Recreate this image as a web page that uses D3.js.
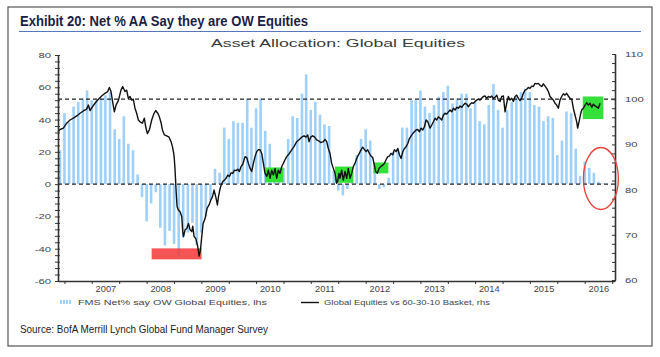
<!DOCTYPE html>
<html><head><meta charset="utf-8">
<script src="https://cdn.jsdelivr.net/npm/d3@7"></script>
<style>body{margin:0;background:#fff}svg{display:block}</style>
</head><body>
<svg id="c" width="660" height="357"></svg>
<script>
// ---------------- DATA ----------------
const titleText = "Exhibit 20: Net % AA Say they are OW Equities";
const chartTitle = "Asset Allocation: Global Equities";
const sourceText = "Source: BofA Merrill Lynch Global Fund Manager Survey";
const barLabel = "FMS Net% say OW Global Equities, lhs";
const lineLabel = "Global Equities vs 60-30-10 Basket, rhs";

const barFirstMonth = [2006, 9]; // Sep 2006, monthly
const barValues = [
  21, 44, 38, 48, 51, 53, 58, 52, 52, 53, 55, 57,
  34, 28, 42, 25, 21, 6,
  -8, -23, -12, -5, -27, -38, -29, -37, -45, -33, -30, -24, -38, -30, -20, -10,
  9.5, 7, 35, 28, 39, 38,
  38, 53, 35, 47, 53, 33, 25, 10, 8, 10,
  28, 42, 41, 56, 68, 46, 51, 43, 37, 36,
  8, -4, -7, -3, 8, 18, 28, 34, 27, 10,
  -3, -2, 4, 20, 22, 35, 35, 52, 52, 58,
  48, 44, 49, 54, 57, 61, 50, 53, 56, 56,
  47, 51, 39, 37, 49, 62, 46, 35, 46, 51,
  54, 57, 59, 57, 49, 48, 39, 42, 41, 18,
  27, 45, 44, 22, 5, 14, 10, 7, 1.5, 0.5
];

const lineYears = [
  2006.63,2006.667,2006.728,2006.789,2006.85,2006.911,2006.972,2007.033,2007.093,2007.154,
  2007.185,2007.215,2007.258,2007.306,2007.367,2007.428,2007.489,2007.538,2007.568,2007.599,
  2007.623,2007.66,2007.69,2007.733,2007.781,2007.812,2007.854,2007.885,2007.915,2007.946,
  2007.976,2008.006,2008.037,2008.067,2008.098,2008.128,2008.171,2008.207,2008.232,2008.262,
  2008.299,2008.341,2008.378,2008.414,2008.451,2008.481,2008.512,2008.536,2008.573,2008.615,
  2008.658,2008.694,2008.719,2008.743,2008.755,2008.767,2008.779,2008.792,2008.804,2008.828,
  2008.859,2008.889,2008.907,2008.92,2008.95,2008.98,2009.011,2009.041,2009.072,2009.09,
  2009.114,2009.145,2009.181,2009.206,2009.23,2009.254,2009.279,2009.315,2009.352,2009.388,
  2009.419,2009.449,2009.479,2009.51,2009.54,2009.559,2009.583,2009.607,2009.638,2009.668,
  2009.699,2009.729,2009.759,2009.79,2009.82,2009.851,2009.881,2009.912,2009.942,2009.972,
  2010.003,2010.045,2010.076,2010.106,2010.137,2010.167,2010.197,2010.228,2010.258,2010.289,
  2010.319,2010.35,2010.38,2010.41,2010.441,2010.471,2010.502,2010.532,2010.563,2010.593,
  2010.624,2010.654,2010.684,2010.715,2010.745,2010.776,2010.806,2010.855,2010.897,2010.94,
  2010.989,2011.037,2011.08,2011.123,2011.159,2011.19,2011.214,2011.244,2011.281,2011.318,
  2011.354,2011.39,2011.427,2011.476,2011.506,2011.537,2011.567,2011.597,2011.628,2011.658,
  2011.689,2011.719,2011.737,2011.762,2011.78,2011.81,2011.841,2011.871,2011.902,2011.932,
  2011.963,2011.993,2012.024,2012.054,2012.084,2012.127,2012.164,2012.194,2012.224,2012.255,
  2012.285,2012.316,2012.346,2012.377,2012.407,2012.431,2012.462,2012.492,2012.523,2012.559,
  2012.59,2012.62,2012.651,2012.681,2012.711,2012.742,2012.772,2012.803,2012.833,2012.864,
  2012.894,2012.925,2012.955,2012.985,2013.016,2013.046,2013.077,2013.107,2013.137,2013.168,
  2013.198,2013.229,2013.259,2013.29,2013.32,2013.351,2013.381,2013.423,2013.454,2013.484,
  2013.515,2013.545,2013.575,2013.606,2013.636,2013.667,2013.697,2013.728,2013.758,2013.789,
  2013.819,2013.849,2013.88,2013.91,2013.941,2013.971,2014.002,2014.032,2014.062,2014.093,
  2014.123,2014.154,2014.184,2014.215,2014.245,2014.275,2014.306,2014.336,2014.367,2014.397,
  2014.428,2014.458,2014.489,2014.519,2014.549,2014.58,2014.61,2014.641,2014.671,2014.702,
  2014.732,2014.763,2014.793,2014.823,2014.854,2014.884,2014.915,2014.945,2014.976,2015.006,
  2015.036,2015.067,2015.097,2015.128,2015.158,2015.189,2015.219,2015.25,2015.28,2015.31,
  2015.341,2015.371,2015.402,2015.432,2015.463,2015.493,2015.523,2015.554,2015.584,2015.615,
  2015.645,2015.676,2015.706,2015.736,2015.767,2015.797,2015.828,2015.858,2015.889,2015.919,
  2015.95,2015.98,2016.011,2016.041,2016.071,2016.102,2016.12,2016.144,2016.169,2016.193,
  2016.223,2016.254,2016.284,2016.315,2016.345,2016.376,2016.406,2016.436,2016.467,2016.497,
  2016.528
];
const lineValues = [
  92.8,93.3,93.6,94.7,95.4,95.8,96.3,96.9,97.4,97.8,
  98.7,97.5,98.3,99.1,100.0,100.7,101.3,101.7,102.6,101.7,
  99.8,97.2,98.7,99.7,102.0,102.8,101.7,102.0,100.2,100.6,
  99.8,100.0,98.0,96.9,95.4,95.0,94.7,95.8,93.9,92.4,
  93.2,95.4,96.7,97.5,96.9,96.1,94.8,93.2,92.1,91.9,
  91.6,90.6,89.5,88.0,86.5,84.3,81.4,78.4,76.2,75.5,
  75.1,74.0,70.7,69.6,71.1,71.4,72.5,71.1,70.7,71.9,
  69.6,69.2,67.4,65.3,66.6,69.6,72.5,73.6,75.9,76.6,
  77.7,78.4,79.9,78.4,76.6,78.4,79.9,81.0,81.8,82.1,
  82.5,83.2,82.9,83.7,83.6,84.3,84.2,84.5,84.0,85.1,
  85.6,87.3,87.1,85.8,84.7,84.0,85.8,87.3,88.4,88.8,
  88.8,88.0,85.8,83.6,82.9,84.3,82.5,84.3,83.2,84.7,
  82.5,84.3,83.6,85.1,85.8,86.6,87.3,88.0,88.8,89.5,
  90.6,91.1,91.6,91.9,91.6,92.1,90.6,91.6,91.9,91.6,
  91.0,90.8,90.4,90.6,91.1,90.6,89.1,88.0,85.8,84.7,
  83.6,81.4,81.8,83.6,82.5,84.3,82.1,84.0,82.5,84.7,
  82.5,83.6,85.1,85.8,86.9,87.9,88.8,89.4,88.9,88.4,
  88.8,88.0,87.4,87.1,85.4,84.0,83.6,84.7,85.1,85.4,
  85.8,86.6,87.3,87.4,88.0,87.7,88.8,88.4,89.1,87.7,
  86.9,88.4,89.1,89.5,90.2,91.3,91.9,92.4,92.8,93.2,
  93.3,92.8,93.6,93.2,93.9,95.4,95.0,93.6,94.3,95.0,
  95.8,95.4,96.1,95.8,95.4,96.5,96.9,96.7,97.2,97.6,
  97.2,98.0,97.6,98.2,98.0,98.5,98.2,98.7,99.1,98.9,
  98.3,98.9,99.2,99.1,99.5,99.8,100.0,99.8,100.2,100.6,
  100.7,100.2,100.6,100.4,100.7,100.2,100.4,100.9,99.8,99.5,
  100.6,100.7,97.2,99.1,100.6,99.8,100.2,99.5,100.6,100.9,
  100.2,99.7,100.2,101.3,102.0,102.2,102.6,102.4,102.9,102.8,
  103.5,103.4,103.5,103.1,102.8,103.4,102.9,102.4,101.7,100.6,
  100.2,99.8,99.1,98.7,98.0,99.8,100.6,101.2,100.9,101.3,
  100.7,100.2,100.0,98.0,96.5,95.0,93.6,95.0,96.5,97.6,
  98.0,98.7,99.2,98.7,99.1,98.2,98.9,98.5,98.3,98.0,
  99.1
];

const leftTicks = [-60, -40, -20, 0, 20, 40, 60, 80];
const rightTicks = [60, 70, 80, 90, 100, 110];
const yearLabels = ["2007","2008","2009","2010","2011","2012","2013","2014","2015","2016"];
const refLineRight = 100;   // upper dashed line (rhs)
const refLineLeft = 0;      // lower dashed line (lhs)

// highlight boxes: [startYear, endYear, low, high] (axis units)
const redBox = [2008.34, 2009.25, -46.6, -39.8];          // lhs
const greenBoxes = [                                        // rhs
  [2010.41, 2010.745, 81.6, 84.9],
  [2011.689, 2012.023, 81.5, 85.1],
  [2012.388, 2012.662, 83.6, 86.0],
  [2016.212, 2016.588, 95.6, 100.6]
];
const circleMark = [2016.543, 3.5]; // year, lhs value

// ---------------- HELPERS ----------------
function dy(t){
  const y = Math.floor(t);
  const s = new Date(y,0,1), e = new Date(y+1,0,1);
  return new Date(+s + (t-y)*(e-s));
}
const svg = d3.select("#c");
const FONT = "'Liberation Sans', Arial, sans-serif";
const NARROW = "'Liberation Sans Narrow', 'Arial Narrow', 'Liberation Sans', sans-serif";

const x = d3.scaleTime().domain([dy(2006.63), dy(2016.80)]).range([58, 615]);
const yL = d3.scaleLinear().domain([-60, 80]).range([281, 55]);
const yR = d3.scaleLinear().domain([60, 110]).range([280, 54]);

// frame
svg.append("rect").attr("x",8).attr("y",7).attr("width",644).attr("height",339)
  .attr("fill","none").attr("stroke","#555").attr("stroke-width",1.2);

// title
svg.append("text").attr("x",20).attr("y",26).text(titleText)
  .attr("font-family",NARROW).attr("font-weight","bold").attr("font-size",14.5)
  .attr("fill","#1b1d45").attr("textLength",288).attr("lengthAdjust","spacingAndGlyphs");
svg.append("line").attr("x1",19).attr("x2",641).attr("y1",31.5).attr("y2",31.5)
  .attr("stroke","#5577bb").attr("stroke-width",1);

// chart title
svg.append("text").attr("x",211).attr("y",46.5).text(chartTitle)
  .attr("font-family",FONT).attr("font-size",11.5).attr("fill","#3a3a3a")
  .attr("textLength",254).attr("lengthAdjust","spacingAndGlyphs");

// bars
const months = barValues.map((v,i) => new Date(barFirstMonth[0], barFirstMonth[1]-1+i, 1));
svg.append("g").selectAll("rect").data(barValues).join("rect")
  .attr("x",(d,i)=>x(months[i])-1.3)
  .attr("width",2.6)
  .attr("y",d=>Math.min(yL(d),yL(0)))
  .attr("height",d=>Math.abs(yL(d)-yL(0)))
  .attr("fill","#9fd0fa");

// dashed lines
const dash = svg.append("g").attr("stroke","#222").attr("stroke-width",1.3).attr("stroke-dasharray","4,3");
dash.append("line").attr("x1",58).attr("x2",615).attr("y1",yR(refLineRight)).attr("y2",yR(refLineRight));
dash.append("line").attr("x1",58).attr("x2",615).attr("y1",yL(refLineLeft)).attr("y2",yL(refLineLeft));

// highlight boxes
svg.append("rect")
  .attr("x",x(dy(redBox[0]))).attr("width",x(dy(redBox[1]))-x(dy(redBox[0])))
  .attr("y",yL(redBox[3])).attr("height",yL(redBox[2])-yL(redBox[3]))
  .attr("fill","#f23c3c").attr("opacity",0.88);
svg.append("g").selectAll("rect").data(greenBoxes).join("rect")
  .attr("x",d=>x(dy(d[0]))).attr("width",d=>x(dy(d[1]))-x(dy(d[0])))
  .attr("y",d=>yR(d[3])).attr("height",d=>yR(d[2])-yR(d[3]))
  .attr("fill","#36e03a");

// line
const pts = lineYears.map((t,i)=>[dy(t), lineValues[i]]);
svg.append("path").datum(pts)
  .attr("d", d3.line().x(d=>x(d[0])).y(d=>yR(d[1])))
  .attr("fill","none").attr("stroke","#111").attr("stroke-width",1.4).attr("stroke-linejoin","round");

// axes
function styleAxis(g){
  g.select(".domain").attr("stroke","#333").attr("stroke-width",1.6);
  g.selectAll(".tick line").attr("stroke","#333").attr("stroke-width",1);
}
const leftAxis = svg.append("g").attr("transform","translate(58,0)")
  .call(d3.axisLeft(yL).tickValues(d3.range(-60,81,4)).tickSizeInner(3).tickSizeOuter(0).tickPadding(4)
    .tickFormat(d => leftTicks.includes(d) ? d : ""));
styleAxis(leftAxis);
leftAxis.selectAll(".tick text").each(function(){
  const t = d3.select(this);
  const xx = +t.attr("x");
  t.attr("x",0).attr("transform",`translate(${xx},0) scale(1.45,1)`);
}).attr("font-family",FONT).attr("font-size",7.8).attr("fill","#444");
leftAxis.selectAll(".tick line").attr("x2",-3).attr("x1",2);

const rightAxis = svg.append("g").attr("transform","translate(615,0)")
  .call(d3.axisRight(yR).tickValues(d3.range(60,111,2)).tickSizeInner(-3).tickSizeOuter(0).tickPadding(10)
    .tickFormat(d => rightTicks.includes(d) ? d : ""));
styleAxis(rightAxis);
rightAxis.selectAll(".tick text").each(function(){
  const t = d3.select(this);
  const xx = +t.attr("x");
  t.attr("x",0).attr("transform",`translate(${xx},0) scale(1.45,1)`);
}).attr("font-family",FONT).attr("font-size",7.8).attr("fill","#444");
rightAxis.selectAll(".tick line").attr("x1",1);

const tickDates = [];
for (let y = 2006; y <= 2016; y++) { tickDates.push(new Date(y,3,1), new Date(y,9,1)); }
const bottomAxis = svg.append("g").attr("transform","translate(0,281)")
  .call(d3.axisBottom(x).tickValues(tickDates.filter(d => d>=x.domain()[0] && d<=x.domain()[1]))
    .tickSizeInner(3).tickSizeOuter(0).tickFormat(""));
styleAxis(bottomAxis);

const yearAxis = svg.append("g").attr("transform","translate(0,281)")
  .call(d3.axisBottom(x).tickValues(yearLabels.map(y => new Date(+y,6,1)))
    .tickSize(0).tickPadding(5).tickFormat((d,i)=>yearLabels[i]));
yearAxis.select(".domain").remove();
yearAxis.selectAll(".tick text").each(function(){
  const t = d3.select(this);
  t.attr("transform","scale(1.12,1)");
}).attr("font-family",FONT).attr("font-size",8.3).attr("fill","#444");

// legend
const lg = svg.append("g");
const legBars = [0,1,2,3];
lg.selectAll("rect").data(legBars).join("rect")
  .attr("x",d=>60+d*3).attr("y",300).attr("width",2).attr("height",4).attr("fill","#9fd0fa");
lg.append("text").attr("x",78).attr("y",304.5).text(barLabel)
  .attr("font-family",FONT).attr("font-size",7).attr("fill","#444")
  .attr("textLength",189).attr("lengthAdjust","spacingAndGlyphs");
lg.append("line").attr("x1",301).attr("x2",319).attr("y1",302.5).attr("y2",302.5)
  .attr("stroke","#111").attr("stroke-width",1.4);
lg.append("text").attr("x",324).attr("y",304.5).text(lineLabel)
  .attr("font-family",FONT).attr("font-size",7).attr("fill","#444")
  .attr("textLength",166).attr("lengthAdjust","spacingAndGlyphs");

// red circle
svg.append("ellipse").attr("cx",x(dy(circleMark[0]))).attr("cy",yL(circleMark[1]))
  .attr("rx",17.5).attr("ry",31).attr("fill","none").attr("stroke","#e8413c").attr("stroke-width",1.3);

// source
svg.append("text").attr("x",20).attr("y",333).text(sourceText)
  .attr("font-family",NARROW).attr("font-size",11).attr("fill","#222")
  .attr("textLength",248).attr("lengthAdjust","spacingAndGlyphs");
</script>
</body></html>
